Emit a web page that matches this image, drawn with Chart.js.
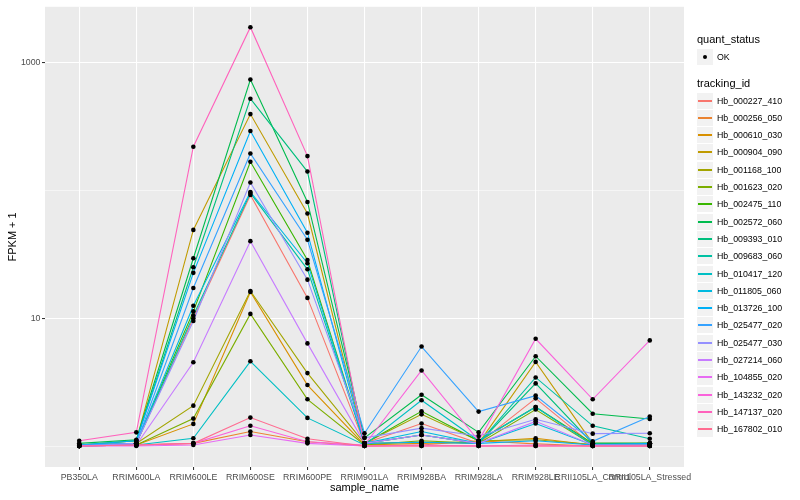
<!DOCTYPE html>
<html>
<head>
<meta charset="utf-8">
<script src="https://cdn.jsdelivr.net/npm/chart.js@4.4.1/dist/chart.umd.min.js"></script>
<style>
    body { margin: 0; background: #fff; font-family: "Liberation Sans", Arial, sans-serif; }
    #wrap { position: relative; width: 800px; height: 500px; }
    #legend { position: absolute; left: 0; top: 0; width: 800px; height: 500px; pointer-events: none; }
    .lg-title { position: absolute; left: 697px; font-size: 11px; color: #000; line-height: 13px; }
    .lg-key { position: absolute; left: 697px; width: 16px; height: 16px; background: #F2F2F2; }
    .lg-text { position: absolute; left: 717px; font-size: 8.8px; color: #000; line-height: 10px; }
</style>
</head>
<body>
<div id="wrap">
    <canvas id="chart" width="800" height="500"></canvas>
    <div id="legend"></div>
</div>
<script>
const sampleNames = ['PB350LA', 'RRIM600LA', 'RRIM600LE', 'RRIM600SE', 'RRIM600PE', 'RRIM901LA',
    'RRIM928BA', 'RRIM928LA', 'RRIM928LE', 'RRII105LA_Control', 'RRII105LA_Stressed'];

const trackingIds = ['Hb_000227_410', 'Hb_000256_050', 'Hb_000610_030', 'Hb_000904_090', 'Hb_001168_100',
    'Hb_001623_020', 'Hb_002475_110', 'Hb_002572_060', 'Hb_009393_010', 'Hb_009683_060',
    'Hb_010417_120', 'Hb_011805_060', 'Hb_013726_100', 'Hb_025477_020', 'Hb_025477_030',
    'Hb_027214_060', 'Hb_104855_020', 'Hb_143232_020', 'Hb_147137_020', 'Hb_167802_010'];

// ggplot hue palette, 20 levels
const lineColors = ['#F8766D', '#EA8331', '#D89000', '#C09B00', '#A3A500', '#7CAE00', '#39B600', '#00BB4E',
    '#00BF7D', '#00C1A3', '#00BFC4', '#00BAE0', '#00B0F6', '#35A2FF', '#9590FF', '#C77CFF',
    '#E76BF3', '#FA62DB', '#FF62BC', '#FF6C91'];

// FPKM + 1, one array per tracking_id, in sampleNames order
const hb000227_410 = [1.02, 1.05, 10.0, 92, 14.4, 1.05, 1.50, 1.05, 2.36, 1.02, 1.02];
const hb000256_050 = [1.0, 1.02, 1.05, 1.30, 1.08, 1.0, 1.02, 1.10, 1.04, 1.0, 1.0];
const hb000610_030 = [1.0, 1.02, 1.49, 16.0, 3.0, 1.02, 1.05, 1.08, 1.15, 1.02, 1.03];
const hb000904_090 = [1.02, 1.10, 49, 394, 65.8, 1.05, 1.07, 1.05, 4.55, 1.05, 1.05];
const hb001168_100 = [1.0, 1.05, 2.07, 16.3, 3.72, 1.05, 1.77, 1.10, 1.12, 1.03, 1.05];
const hb001623_020 = [1.0, 1.02, 1.64, 10.8, 2.32, 1.02, 1.10, 1.05, 1.93, 1.02, 1.02];
const hb002475_110 = [1.0, 1.05, 11.3, 167, 28.5, 1.05, 1.87, 1.10, 2.02, 1.05, 1.05];
const hb002572_060 = [1.05, 1.12, 29.4, 735, 81, 1.16, 2.52, 1.28, 5.04, 1.79, 1.63];
const hb009393_010 = [1.02, 1.10, 25.0, 520, 140, 1.05, 1.22, 1.05, 3.09, 1.05, 1.05];
const hb009683_060 = [1.02, 1.05, 10.5, 95, 24.1, 1.05, 1.22, 1.05, 3.44, 1.44, 1.14];
const hb010417_120 = [1.0, 1.02, 1.15, 4.6, 1.66, 1.02, 2.28, 1.10, 2.02, 1.02, 1.02];
const hb011805_060 = [1.0, 1.05, 12.5, 97, 26.9, 1.05, 1.30, 1.05, 1.50, 1.02, 1.02];
const hb013726_100 = [1.02, 1.10, 22.6, 291, 46.6, 1.05, 1.07, 1.05, 1.10, 1.02, 1.05];
const hb025477_020 = [1.02, 1.05, 17.2, 194, 41, 1.26, 6.0, 1.86, 2.48, 1.09, 1.70];
const hb025477_030 = [1.0, 1.05, 9.5, 115, 20, 1.16, 1.38, 1.20, 1.62, 1.25, 1.26];
const hb027214_060 = [1.0, 1.02, 4.52, 40, 6.35, 1.05, 1.22, 1.05, 1.56, 1.02, 1.02];
const hb104855_020 = [1.0, 1.0, 1.02, 1.22, 1.05, 1.0, 1.02, 1.0, 1.02, 1.0, 1.0];
const hb143232_020 = [1.0, 1.02, 1.05, 1.44, 1.08, 1.02, 3.9, 1.10, 6.9, 2.32, 6.7];
const hb147137_020 = [1.10, 1.28, 219, 1884, 185, 1.0, 1.0, 1.0, 1.0, 1.0, 1.0];
const hb167802_010 = [1.0, 1.02, 1.05, 1.67, 1.14, 1.0, 1.0, 1.0, 1.0, 1.0, 1.0];

const seriesValues = [hb000227_410, hb000256_050, hb000610_030, hb000904_090, hb001168_100,
    hb001623_020, hb002475_110, hb002572_060, hb009393_010, hb009683_060,
    hb010417_120, hb011805_060, hb013726_100, hb025477_020, hb025477_030,
    hb027214_060, hb104855_020, hb143232_020, hb147137_020, hb167802_010];

const yGridValues = [1, 10, 100, 1000];
const yTickLabels = [10, 1000];

const toPoints = values => values.map((v, i) => ({ x: i, y: v }));

const lineSets = seriesValues.map((values, i) => ({
    type: 'line',
    label: trackingIds[i],
    data: toPoints(values),
    borderColor: lineColors[i],
    borderWidth: 1.1,
    pointRadius: 0,
    fill: false,
    order: seriesValues.length - i
}));

const pointSet = {
    type: 'scatter',
    label: 'OK',
    data: seriesValues.flatMap(toPoints),
    backgroundColor: '#000',
    borderWidth: 0,
    pointRadius: 2.3,
    order: 0
};

const panelBg = {
    id: 'panelBg',
    beforeDraw(chart) {
        const { ctx, chartArea: a } = chart;
        ctx.save();
        ctx.fillStyle = '#EBEBEB';
        ctx.fillRect(a.left, a.top, a.right - a.left, a.bottom - a.top);
        ctx.restore();
    }
};

const tickFont = { family: '"Liberation Sans", Arial, sans-serif', size: 8.8 };
const titleFont = { family: '"Liberation Sans", Arial, sans-serif', size: 11 };

new Chart(document.getElementById('chart'), {
    type: 'line',
    data: { datasets: [...lineSets, pointSet] },
    options: {
        responsive: false,
        animation: false,
        layout: { padding: { left: 0, top: 5, right: 116, bottom: 0 } },
        plugins: { legend: { display: false }, tooltip: { enabled: false } },
        scales: {
            x: {
                type: 'linear',
                min: -0.6,
                max: sampleNames.length - 1 + 0.6,
                afterBuildTicks: scale => { scale.ticks = sampleNames.map((_, i) => ({ value: i })); },
                afterFit: scale => { scale.height = 33; },
                ticks: {
                    autoSkip: false, maxRotation: 0, minRotation: 0, padding: 2,
                    color: '#4D4D4D', font: tickFont,
                    callback: v => sampleNames[v]
                },
                grid: { color: '#fff', lineWidth: 1.07, tickColor: '#333', tickLength: 3, tickWidth: 1.07 },
                border: { display: false },
                title: { display: true, text: 'sample_name', color: '#000', font: titleFont, padding: { top: 0, bottom: 5.5 } }
            },
            y: {
                type: 'logarithmic',
                min: 0.686,
                max: 2720,
                afterBuildTicks: scale => { scale.ticks = yGridValues.map(v => ({ value: v })); },
                afterFit: scale => { scale.width = 45; },
                ticks: {
                    autoSkip: false, padding: 1.5, color: '#4D4D4D', font: tickFont,
                    callback: v => yTickLabels.includes(v) ? String(v) : ''
                },
                grid: {
                    color: '#fff',
                    lineWidth: ctx => yTickLabels.includes(ctx.tick.value) ? 1.07 : 0.53,
                    tickColor: ctx => yTickLabels.includes(ctx.tick.value) ? '#333' : 'rgba(0,0,0,0)',
                    tickLength: 3, tickWidth: 1.07
                },
                border: { display: false },
                title: { display: true, text: 'FPKM + 1', color: '#000', font: titleFont, padding: { top: 6, bottom: 0 } }
            }
        }
    },
    plugins: [panelBg]
});

// ggplot-style legend on the right
function renderLegend() {
    const box = document.getElementById('legend');
    let html = '';
    html += `<div class="lg-title" style="top:33px">quant_status</div>`;
    html += `<div class="lg-key" style="top:49px"><div style="position:absolute;left:6px;top:6px;width:4px;height:4px;border-radius:2px;background:#000"></div></div>`;
    html += `<div class="lg-text" style="top:52px">OK</div>`;
    html += `<div class="lg-title" style="top:77px">tracking_id</div>`;
    trackingIds.forEach((id, i) => {
        const top = Math.round(92.5 + i * 17.3);
        html += `<div class="lg-key" style="top:${top}px"><div style="position:absolute;left:1px;top:7px;width:14px;height:2px;background:${lineColors[i]}"></div></div>`;
        html += `<div class="lg-text" style="top:${top + 3}px">${id}</div>`;
    });
    box.innerHTML = html;
}

renderLegend();
</script>
</body>
</html>
